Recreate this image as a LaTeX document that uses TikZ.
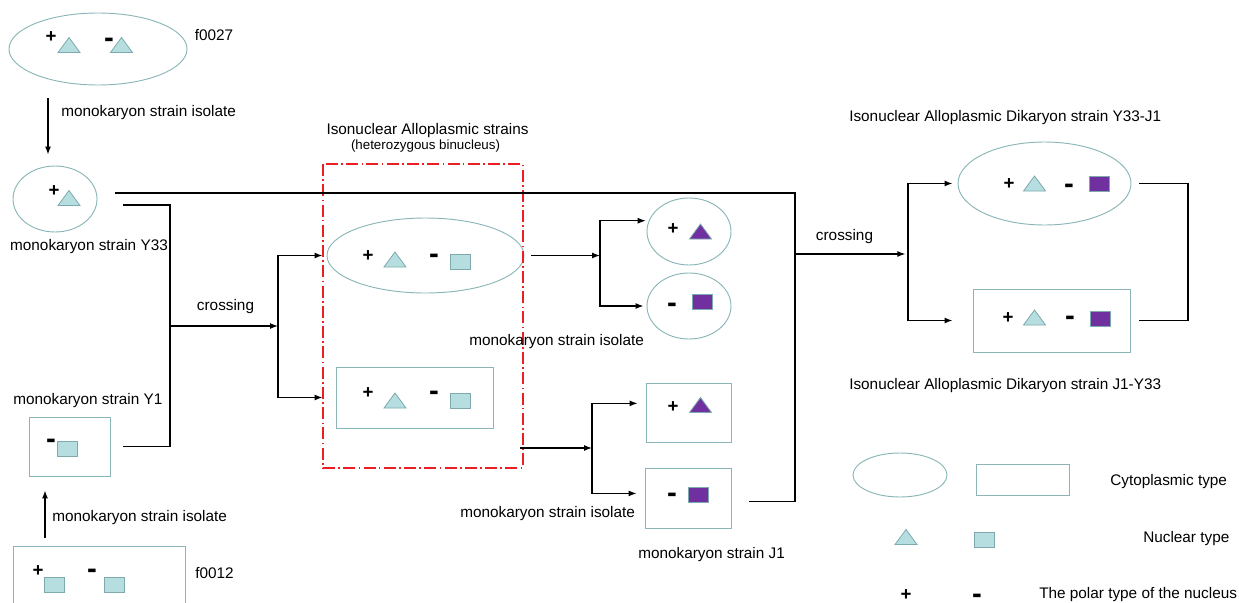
\documentclass[tikz,border=0pt]{standalone}
\usepackage{fontspec}
\setmainfont{Liberation Sans}
\usetikzlibrary{shapes.geometric,arrows.meta}

\definecolor{cytoline}{RGB}{138,182,184}
\definecolor{nucfill}{RGB}{182,222,224}
\definecolor{nucline}{RGB}{125,170,172}
\definecolor{nucpurple}{RGB}{112,48,160}
\definecolor{isored}{RGB}{235,30,35}

\tikzset{
  cyto/.style={draw=cytoline, line width=0.7pt, inner sep=0pt},
  cytoell/.style 2 args={cyto, ellipse, minimum width=#1*0.75pt, minimum height=#2*0.75pt},
  cytobox/.style 2 args={cyto, rectangle, minimum width=#1*0.75pt, minimum height=#2*0.75pt},
  nucA/.style={fill=nucfill, draw=nucline, line width=0.6pt},
  nucB/.style={fill=nucpurple, draw=nucline, line width=0.6pt},
  pics/nuctri/.style={code={\draw [#1] (-11,-7.5) -- (11,-7.5) -- (0,7.5) -- cycle;}},
  pics/nucsq/.style={code={\draw [#1] (-10,-7.5) rectangle (10,7.5);}},
  plus/.style={font=\fontsize{14}{14}\selectfont\bfseries, inner sep=0pt},
  % minus sits on its baseline, 9 units under the bar
  minus/.style={font=\fontsize{22}{22}\selectfont\bfseries, inner sep=0pt, anchor=base},
  lbl/.style={font=\fontsize{11.5}{13}\selectfont, inner sep=0.75pt},
  wire/.style={line width=0.9pt},
  arr/.style={wire, -{Latex[length=6pt,width=4.5pt]}},
  isobox/.style={draw=isored, line width=0.9pt, dash pattern=on 9pt off 2.5pt on 1.2pt off 2.5pt},
}

\begin{document}
\begin{tikzpicture}[x=0.75pt,y=0.75pt,yscale=-1,xscale=1]
\useasboundingbox (0,0) rectangle (1239,603);

%Cytoplasm: ellipses and boxes
\node [cytoell={178}{72}] (f27) at (98,49) {};
\node [cytoell={84}{66}] (y33) at (55,199) {};
\node [cytobox={81}{59}] (y1) at (69.5,446.5) {};
\node [cytobox={172}{66}] (f12) at (99,579) {};
\node [cytoell={197}{75}] (mell) at (425.5,255.5) {};
\node [cytobox={157}{61}] (mbox) at (414.5,397.5) {};
\node [cytoell={84}{67}] (se1) at (689,231.5) {};
\node [cytoell={84}{66}] (se2) at (689,306) {};
\node [cytobox={85}{59}] (j1a) at (688.5,412.5) {};
\node [cytobox={86}{60}] (j1b) at (688,498) {};
\node [cytoell={173}{83}] (tr) at (1044.5,183.5) {};
\node [cytobox={157}{63}] (br) at (1051.5,320.5) {};
\node [cytoell={94}{44}] (lgell) at (900,475) {};
\node [cytobox={93}{31}] (lgbox) at (1022.5,479.5) {};

%Isonuclear group frame
\draw [isobox] (323,164) rectangle (523,468);

%Nuclei
\pic at (69,45) {nuctri=nucA};
\pic at (121.5,45) {nuctri=nucA};
\pic at (69,198) {nuctri=nucA};
\pic at (67.5,448.5) {nucsq=nucA};
\pic at (54,584.5) {nucsq=nucA};
\pic at (114,584.5) {nucsq=nucA};
\pic at (395,259.5) {nuctri=nucA};
\pic at (460,262) {nucsq=nucA};
\pic at (395,400.5) {nuctri=nucA};
\pic at (460,400.5) {nucsq=nucA};
\pic at (700.5,231.5) {nuctri=nucB};
\pic at (702.5,302) {nucsq=nucB};
\pic at (700.5,405) {nuctri=nucB};
\pic at (698,495) {nucsq=nucB};
\pic at (1034.5,183.5) {nuctri=nucA};
\pic at (1099.5,183.5) {nucsq=nucB};
\pic at (1034.5,317.5) {nuctri=nucA};
\pic at (1100,318.5) {nucsq=nucB};
\pic at (906,537) {nuctri=nucA};
\pic at (984.5,540) {nucsq=nucA};

%Polar signs
\node [plus] (f27p) at (51,37) {+};
\node [minus] (f27m) at (109,47) {-};
\node [plus] (y33p) at (54,191) {+};
\node [minus] (y1m) at (51,448) {-};
\node [plus] (f12p) at (38,571) {+};
\node [minus] (f12m) at (92,578) {-};
\node [plus] (mellp) at (368,256) {+};
\node [minus] (mellm) at (434,263) {-};
\node [plus] (mboxp) at (368,393) {+};
\node [minus] (mboxm) at (434,400) {-};
\node [plus] (se1p) at (673,229) {+};
\node [minus] (se2m) at (672,312) {-};
\node [plus] (j1ap) at (673,407) {+};
\node [minus] (j1bm) at (672,502) {-};
\node [plus] (trp) at (1009,184) {+};
\node [minus] (trm) at (1069,193) {-};
\node [plus] (brp) at (1008,318) {+};
\node [minus] (brm) at (1070,325) {-};
\node [plus] (lgp) at (906,595) {+};
\node [minus] (lgm) at (977,603) {-};

%Junction points
\coordinate (isoA) at (48,98);
\coordinate (isoB) at (45,538);
\coordinate (y33b) at (123,205);
\coordinate (lj) at (170,326);
\coordinate (ls) at (278,326);
\coordinate (ms) at (600,255.5);
\coordinate (mb2) at (520,448);
\coordinate (js) at (592,448);
\coordinate (y33out) at (115,193);
\coordinate (rtop) at (795,193);
\coordinate (rjoin) at (795,254);
\coordinate (rsplit) at (908,254);
\coordinate (rb) at (1188,185);

%Isolation arrows
\draw [arr, shorten >=8.25pt] (isoA) -- (isoA |- y33.north);
\draw [arr, shorten >=10.5pt] (isoB) -- (isoB |- y1.south);

%First crossing
\draw [wire, shorten >=9.75pt] (y33b) -| (lj) |- (y1.east);
\draw [arr] (lj) -- (ls);
\draw [arr, shorten >=3pt] (ls) |- (mell.west);
\draw [arr, shorten >=9.75pt] (ls) |- (mbox.west);

%Monokaryon isolation
\draw [arr, shorten <=5.25pt] (mell.east) -- (ms);
\draw [arr, shorten >=2.25pt] (ms) |- (se1.165);
\draw [arr, shorten >=2.25pt] (ms) |- (se2.west);
\draw [arr] (mb2) -- (js);
\draw [arr, shorten >=6pt] (js) |- (j1a.168);
\draw [arr, shorten >=6pt] (js) |- (j1b.174);

%Second crossing
\draw [wire, shorten <=13.5pt] (j1b.-5) -| (rtop) -- (y33out);
\draw [arr, shorten >=2pt] (rjoin) -- (rsplit);
\draw [arr, shorten >=3.75pt] (rsplit) |- (tr.west);
\draw [arr, shorten >=15pt] (rsplit) |- (br.west);
\draw [wire, shorten <=6pt, shorten >=6.75pt] (tr.east) -- (tr.east -| rb) |- (br.east);

%Labels
\node [lbl] (f27lbl) at (214,35) {f0027};
\node [lbl, anchor=west] (iso1lbl) at (60,113) {monokaryon strain isolate};
\node [lbl] (y33lbl) at (89,247) {monokaryon strain Y33};
\node [lbl] (cross1) at (225.5,307) {crossing};
\node [lbl, anchor=west] (y1lbl) at (12,401) {monokaryon strain Y1};
\node [lbl, anchor=west] (iso2lbl) at (51,518) {monokaryon strain isolate};
\node [lbl] (f12lbl) at (214.5,573) {f0012};
\node [lbl] (isottl) at (427.5,131) {Isonuclear Alloplasmic strains};
\node [lbl, font=\fontsize{10}{12}\selectfont] (isosub) at (425.5,146) {(heterozygous binucleus)};
\node [lbl, anchor=west] (iso3lbl) at (468,342) {monokaryon strain isolate};
\node [lbl, anchor=west] (iso4lbl) at (459,514) {monokaryon strain isolate};
\node [lbl, anchor=west] (j1lbl) at (637,555) {monokaryon strain J1};
\node [lbl] (cross2) at (844.5,237) {crossing};
\node [lbl, anchor=west] (trttl) at (848,118) {Isonuclear Alloplasmic Dikaryon strain Y33-J1};
\node [lbl, anchor=west] (brttl) at (848,386) {Isonuclear Alloplasmic Dikaryon strain J1-Y33};
\node [lbl, anchor=west] (lg1) at (1109,482) {Cytoplasmic type};
\node [lbl, anchor=west] (lg2) at (1142,539) {Nuclear type};
\node [lbl, anchor=west] (lg3) at (1038,595) {The polar type of the nucleus};

\end{tikzpicture}
\end{document}
